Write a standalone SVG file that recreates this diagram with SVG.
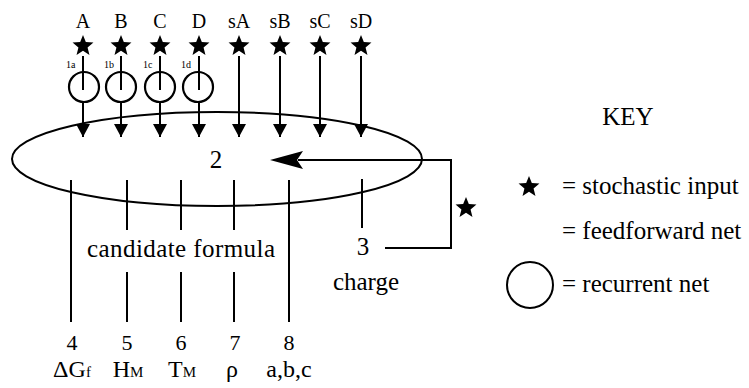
<svg xmlns="http://www.w3.org/2000/svg" xmlns:xlink="http://www.w3.org/1999/xlink" width="749" height="388" viewBox="0 0 749 388" font-family="'Liberation Serif', 'Times New Roman', Tinos, 'DejaVu Serif', serif">
<style>
text{fill:#000}
.lbl{font-size:20px;text-anchor:middle}
.big{font-size:25px}
.mid{text-anchor:middle}
.num{font-size:22px;text-anchor:middle}
.sub{font-size:24px;text-anchor:middle}
.tiny{font-size:10px}
.ln{stroke:#000;stroke-width:2;fill:none}
.net{stroke:#000;stroke-width:2.2;fill:#fff}
</style>
<defs>
<path id="star" d="M0,-11 L2.82,-3.88 L10.46,-3.4 L4.57,1.48 L6.47,8.9 L0,4.8 L-6.47,8.9 L-4.57,1.48 L-10.46,-3.4 L-2.82,-3.88 Z" fill="#000"/>
<marker id="ah" markerUnits="userSpaceOnUse" markerWidth="14" markerHeight="14" viewBox="0 0 14 14" refX="13" refY="7" orient="auto">
<path d="M0,0 L13,7 L0,14 Z" fill="#000"/>
</marker>
</defs>
<rect width="749" height="388" fill="#fff"/>
<g id="formula">
<ellipse cx="217" cy="159" rx="205" ry="47" class="ln"/>
<text x="216" y="168" class="big mid">2</text>
</g>
<g id="inputs">
<g id="inA"><text x="83" y="28" class="lbl">A</text><use xlink:href="#star" x="83" y="46"/></g>
<g id="inB"><text x="121" y="28" class="lbl">B</text><use xlink:href="#star" x="121" y="46"/></g>
<g id="inC"><text x="160" y="28" class="lbl">C</text><use xlink:href="#star" x="160" y="46"/></g>
<g id="inD"><text x="199" y="28" class="lbl">D</text><use xlink:href="#star" x="199" y="46"/></g>
<g id="insA"><text x="239" y="28" class="lbl">sA</text><use xlink:href="#star" x="239" y="46"/></g>
<g id="insB"><text x="280" y="28" class="lbl">sB</text><use xlink:href="#star" x="280" y="46"/></g>
<g id="insC"><text x="320" y="28" class="lbl">sC</text><use xlink:href="#star" x="320" y="46"/></g>
<g id="insD"><text x="361" y="28" class="lbl">sD</text><use xlink:href="#star" x="361" y="46"/></g>
</g>
<g id="recurrent">
<g id="n1a"><circle cx="84" cy="87" r="15" class="net"/><text x="66" y="68" class="tiny">1a</text></g>
<g id="n1b"><circle cx="121" cy="87" r="15" class="net"/><text x="104" y="68" class="tiny">1b</text></g>
<g id="n1c"><circle cx="160" cy="87" r="15" class="net"/><text x="143" y="68" class="tiny">1c</text></g>
<g id="n1d"><circle cx="198" cy="87" r="15" class="net"/><text x="181" y="68" class="tiny">1d</text></g>
</g>
<g id="connectors">
<path class="ln" d="M83,56 V90 M121,56 V90 M160,56 V90 M199,56 V90"/>
<path class="ln" d="M83,102 V137" marker-end="url(#ah)"/>
<path class="ln" d="M121,102 V137" marker-end="url(#ah)"/>
<path class="ln" d="M160,102 V137" marker-end="url(#ah)"/>
<path class="ln" d="M199,102 V137" marker-end="url(#ah)"/>
<path class="ln" d="M239,56 V137" marker-end="url(#ah)"/>
<path class="ln" d="M280,56 V137" marker-end="url(#ah)"/>
<path class="ln" d="M320,56 V137" marker-end="url(#ah)"/>
<path class="ln" d="M361,56 V137" marker-end="url(#ah)"/>
<path class="ln" d="M385,248 H451 V160 H298"/>
<polygon points="270,160 303,151 297,160 303,169" fill="#000"/>
<path class="ln" d="M362,179 V228"/>
<path class="ln" d="M71,180 V322"/>
<path class="ln" d="M127,180 V230 M127,272 V322"/>
<path class="ln" d="M181,180 V230 M181,272 V322"/>
<path class="ln" d="M234,180 V230 M234,272 V322"/>
<path class="ln" d="M289,180 V322"/>
</g>
<g id="feedback-star"><use xlink:href="#star" x="466" y="208"/></g>
<g id="charge">
<text x="363" y="255" class="big mid">3</text>
<text x="366" y="290" class="big mid">charge</text>
</g>
<text x="87" y="257" class="big" textLength="188" lengthAdjust="spacing">candidate formula</text>
<g id="outputs">
<g id="o4"><text x="72" y="350" class="num">4</text><text x="72" y="377" class="sub">ΔG<tspan font-size="15">f</tspan></text></g>
<g id="o5"><text x="127" y="350" class="num">5</text><text x="128" y="377" class="sub">H<tspan font-size="15">M</tspan></text></g>
<g id="o6"><text x="181" y="350" class="num">6</text><text x="182" y="377" class="sub">T<tspan font-size="15">M</tspan></text></g>
<g id="o7"><text x="235" y="350" class="num">7</text><text x="232" y="377" class="sub">ρ</text></g>
<g id="o8"><text x="289" y="350" class="num">8</text><text x="289" y="377" class="sub">a,b,c</text></g>
</g>
<g id="key">
<text x="628" y="125" class="big mid">KEY</text>
<use xlink:href="#star" x="529" y="187"/>
<text x="562" y="194" class="big">= stochastic input</text>
<text x="562" y="239" class="big">= feedforward net</text>
<circle cx="530" cy="285" r="23" class="ln"/>
<text x="562" y="292" class="big">= recurrent net</text>
</g>
</svg>
